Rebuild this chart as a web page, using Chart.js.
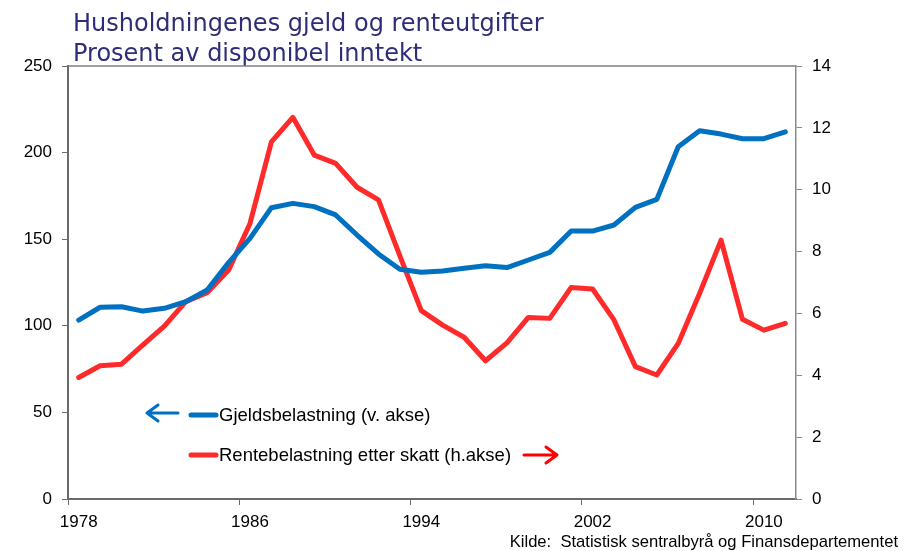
<!DOCTYPE html>
<html lang="no">
<head>
    <meta charset="UTF-8">
    <title>Husholdningenes gjeld og renteutgifter</title>
    <script src="https://cdn.jsdelivr.net/npm/chart.js@4.4.1/dist/chart.umd.min.js"></script>
    <style>
        html, body { margin: 0; padding: 0; background: #fff; }
        #container { width: 904px; height: 551px; position: relative; }
    </style>
</head>
<body>
<div id="container">
    <canvas id="canvas"></canvas>
</div>
<script>
    // år 1978-2011
    var YEARS = ['1978', '1979', '1980', '1981', '1982', '1983', '1984', '1985', '1986', '1987',
        '1988', '1989', '1990', '1991', '1992', '1993', '1994', '1995', '1996', '1997',
        '1998', '1999', '2000', '2001', '2002', '2003', '2004', '2005', '2006', '2007',
        '2008', '2009', '2010', '2011'];

    // Gjeldsbelastning, venstre akse
    var GJELD = [103.3, 110.7, 111.0, 108.5, 110.1, 113.9, 120.7, 136.5, 150.5, 168.2,
        170.7, 168.8, 164.0, 152.4, 141.5, 132.6, 130.9, 131.6, 133.2, 134.7,
        133.6, 138.0, 142.4, 154.7, 154.7, 158.2, 168.4, 173.0, 203.4, 212.6,
        210.7, 208.0, 208.0, 212.0];

    // Rentebelastning etter skatt, hoyre akse
    var RENTE = [3.93, 4.31, 4.36, 4.98, 5.59, 6.38, 6.67, 7.40, 8.91, 11.55,
        12.34, 11.12, 10.85, 10.08, 9.67, 7.86, 6.09, 5.62, 5.23, 4.47,
        5.05, 5.87, 5.84, 6.84, 6.79, 5.79, 4.28, 4.01, 5.03, 6.65,
        8.37, 5.81, 5.46, 5.68];

    var LEFT_TICKS = { min: 0, max: 250, step: 50 };
    var RIGHT_TICKS = { min: 0, max: 14, step: 2 };

    var TITLE = ['Husholdningenes gjeld og renteutgifter', 'Prosent av disponibel inntekt'];
    var LABEL_GJELD = 'Gjeldsbelastning (v. akse)';
    var LABEL_RENTE = 'Rentebelastning etter skatt (h.akse)';
    var SOURCE = 'Kilde:  Statistisk sentralbyrå og Finansdepartementet';

    var BLUE = '#0070C0';
    var RED = '#FF2A2A';
    var FONT = "'Liberation Sans', Arial, sans-serif";

    function arrow(ctx, x1, x2, y, color) {
        // pil fra x1 til x2 (spissen ved x2)
        var dir = x2 > x1 ? 1 : -1;
        ctx.save();
        ctx.strokeStyle = color;
        ctx.lineWidth = 3;
        ctx.lineCap = 'round';
        ctx.lineJoin = 'round';
        ctx.beginPath();
        ctx.moveTo(x1, y);
        ctx.lineTo(x2, y);
        ctx.moveTo(x2 - dir * 11, y - 8);
        ctx.lineTo(x2, y);
        ctx.lineTo(x2 - dir * 11, y + 8);
        ctx.stroke();
        ctx.restore();
    }

    var decorations = {
        id: 'decorations',
        afterDraw: function(chart) {
            var ctx = chart.ctx;
            var area = chart.chartArea;
            ctx.save();

            // tittel
            ctx.fillStyle = '#2E2E78';
            ctx.font = "24px 'DejaVu Sans', Verdana, sans-serif";
            ctx.textAlign = 'left';
            ctx.textBaseline = 'alphabetic';
            ctx.fillText(TITLE[0], 73, 31);
            ctx.fillText(TITLE[1], 73, 61);

            // ramme oppe
            ctx.strokeStyle = '#808080';
            ctx.lineWidth = 1.5;
            ctx.beginPath();
            ctx.moveTo(area.left, area.top);
            ctx.lineTo(area.right, area.top);
            ctx.stroke();

            // tegnforklaring
            ctx.lineCap = 'round';
            ctx.lineWidth = 5;
            ctx.strokeStyle = BLUE;
            ctx.beginPath();
            ctx.moveTo(191, 415);
            ctx.lineTo(216, 415);
            ctx.stroke();
            ctx.strokeStyle = RED;
            ctx.beginPath();
            ctx.moveTo(191, 455);
            ctx.lineTo(216, 455);
            ctx.stroke();

            ctx.fillStyle = '#000';
            ctx.font = '18.5px ' + FONT;
            ctx.textBaseline = 'middle';
            ctx.fillText(LABEL_GJELD, 219, 416);
            ctx.fillText(LABEL_RENTE, 219, 456);

            arrow(ctx, 178, 147, 413, BLUE);
            arrow(ctx, 524, 557, 455, '#FF0000');

            // kilde
            ctx.font = '16.6px ' + FONT;
            ctx.textAlign = 'right';
            ctx.textBaseline = 'alphabetic';
            ctx.fillText(SOURCE, 898, 547);
            ctx.restore();
        }
    };

    window.onload = function() {
        var ctx = document.getElementById('canvas').getContext('2d');
        window.myChart = new Chart(ctx, {
            type: 'line',
            data: {
                labels: YEARS,
                datasets: [{
                    label: LABEL_GJELD,
                    data: GJELD,
                    yAxisID: 'y',
                    borderColor: BLUE,
                    backgroundColor: BLUE,
                    borderWidth: 5,
                    pointRadius: 0,
                    tension: 0,
                    borderJoinStyle: 'round',
                    borderCapStyle: 'round'
                }, {
                    label: LABEL_RENTE,
                    data: RENTE,
                    yAxisID: 'y2',
                    borderColor: RED,
                    backgroundColor: RED,
                    borderWidth: 5,
                    pointRadius: 0,
                    tension: 0,
                    borderJoinStyle: 'round',
                    borderCapStyle: 'round'
                }]
            },
            options: {
                responsive: true,
                maintainAspectRatio: false,
                animation: false,
                layout: { padding: { top: 66, left: 0, right: 0, bottom: 0 } },
                plugins: {
                    legend: { display: false },
                    title: { display: false },
                    tooltip: { enabled: false }
                },
                scales: {
                    x: {
                        type: 'category',
                        offset: true,
                        afterFit: function(scale) { scale.height = 52; },
                        border: { display: true, color: '#6b6b6b', width: 2 },
                        grid: {
                            offset: true,
                            drawOnChartArea: false,
                            drawTicks: true,
                            tickLength: 6,
                            tickColor: function(c) { return c.index % 8 === 0 ? '#6b6b6b' : 'rgba(0,0,0,0)'; }
                        },
                        ticks: {
                            autoSkip: false,
                            maxRotation: 0,
                            padding: 7,
                            color: '#000',
                            font: { family: FONT, size: 17 },
                            callback: function(val, i) { return i % 8 === 0 ? YEARS[i] : ''; }
                        }
                    },
                    y: {
                        position: 'left',
                        min: LEFT_TICKS.min,
                        max: LEFT_TICKS.max,
                        afterFit: function(scale) { scale.width = 68; },
                        border: { display: true, color: '#6b6b6b', width: 2 },
                        grid: { drawOnChartArea: false, tickLength: 6, tickColor: '#6b6b6b' },
                        ticks: {
                            stepSize: LEFT_TICKS.step,
                            padding: 10,
                            color: '#000',
                            font: { family: FONT, size: 17 }
                        }
                    },
                    y2: {
                        position: 'right',
                        min: RIGHT_TICKS.min,
                        max: RIGHT_TICKS.max,
                        afterFit: function(scale) { scale.width = 108; },
                        border: { display: true, color: '#8a8a8a', width: 1.5 },
                        grid: { drawOnChartArea: false, tickLength: 6, tickColor: '#8a8a8a' },
                        ticks: {
                            stepSize: RIGHT_TICKS.step,
                            padding: 10,
                            color: '#000',
                            font: { family: FONT, size: 17 }
                        }
                    }
                }
            },
            plugins: [decorations]
        });
    };
</script>
</body>
</html>
